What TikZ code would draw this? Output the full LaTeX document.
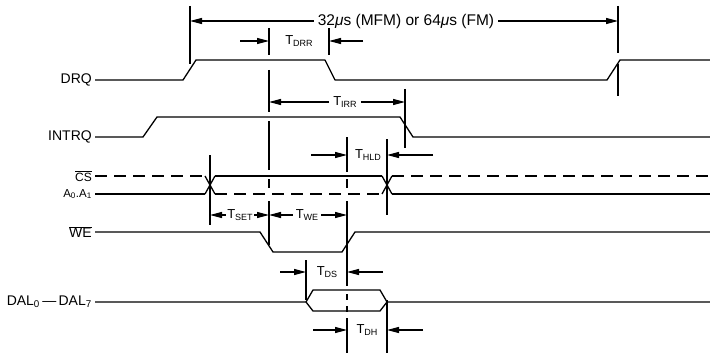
\documentclass[tikz,border=0pt]{standalone}
\usepackage{fontspec}
\setmainfont{Liberation Sans}
\usetikzlibrary{arrows.meta}

% timing label: T with small subscript
\newcommand{\tsub}[1]{T\raisebox{-2.5pt}{\fontsize{9}{10}\selectfont #1}}

\begin{document}
\begin{tikzpicture}[
    x=1pt, y=-1pt,
    font=\fontsize{14}{16}\selectfont,
    >={Triangle[length=12pt,width=6pt]},
    sig/.style={
        line width=1.3pt,
        line join=round
    },
    dashsig/.style={
        sig,
        dash pattern=on 12pt off 7pt
    },
    tick/.style={
        line width=1.2pt
    },
    dim/.style={
        ->,
        line width=1.2pt
    },
    siglabel/.style={
        anchor=east,
        inner sep=0pt
    },
    tlabel/.style={
        font=\fontsize{13}{15}\selectfont,
        inner sep=4pt
    }
]
\useasboundingbox (0,0) rectangle (710,353);

% Signal names
\node[siglabel] (drq) at (92,80) {DRQ};
\node[siglabel] (intrq) at (92,137) {INTRQ};
\node[siglabel, font=\fontsize{12}{13}\selectfont] (cs) at (92,176) {$\overline{\mbox{CS}}$};
\node[siglabel, font=\fontsize{11.5}{12}\selectfont] (addr) at (92,194) {A\textsubscript{0}.A\textsubscript{1}};
\node[siglabel] (we) at (92,232) {$\overline{\mbox{WE}}$};
\node[siglabel] (dal) at (92,302) {DAL\textsubscript{0}\,---\,DAL\textsubscript{7}};

% Waveforms
\draw[sig] (95,80) -- (183,80) -- (196,60) -- (325,60) -- (335,80) -- (607,80) -- (620,60) -- (710,60);
\draw[sig] (95,137) -- (143,137) -- (157,117) -- (400,117) -- (413,137) -- (710,137);

\draw[dashsig] (95,176) -- (205,176);
\draw[sig] (95,194) -- (205,194);
\draw[sig] (205,176) -- (215,194) (205,194) -- (215,176);
\draw[sig] (215,176) -- (382,176);
\draw[dashsig] (215,194) -- (382,194);
\draw[sig] (382,176) -- (392,194) (382,194) -- (392,176);
\draw[dashsig] (392,176) -- (710,176);
\draw[sig] (392,194) -- (710,194);

\draw[sig] (95,232) -- (260,232) -- (273,252) -- (342,252) -- (355,232) -- (710,232);

\draw[sig] (95,302) -- (306,302) -- (313,290) -- (380,290) -- (387,302) -- (710,302);
\draw[sig] (306,302) -- (313,311) -- (380,311) -- (387,302);

% Reference lines
\draw[tick] (190,6) -- (190,64);
\draw[tick] (269,28) -- (269,55) (269,70) -- (269,112) (269,121) -- (269,170)
    (269,179) -- (269,188) (269,201) -- (269,245);
\draw[tick] (329,28) -- (329,55);
\draw[tick] (618,6) -- (618,53) (618,64) -- (618,96);
\draw[tick] (405,89) -- (405,148);
\draw[tick] (347,137) -- (347,172) (347,179) -- (347,188) (347,201) -- (347,286)
    (347,294) -- (347,300) (347,306) -- (347,312) (347,318) -- (347,353);
\draw[tick] (210,155) -- (210,225);
\draw[tick] (387,139) -- (387,215);
\draw[tick] (306,260) -- (306,300);
\draw[tick] (387,300) -- (387,353);

% Cycle time
\node[tlabel, font=\fontsize{15.5}{17}\selectfont] (cycle) at (406,21) {32{\itshape μ}s (MFM) or 64{\itshape μ}s (FM)};
\draw[dim] (cycle.west) -- (190,21);
\draw[dim] (cycle.east) -- (618,21);

% T_DRR
\node[tlabel] (tdrr) at (299,41) {\tsub{DRR}};
\draw[dim] (240,41) -- (269,41);
\draw[dim] (363,41) -- (329,41);

% T_IRR
\node[tlabel] (tirr) at (345,102) {\tsub{IRR}};
\draw[dim] (tirr.west) -- (269,102);
\draw[dim] (tirr.east) -- (405,102);

% T_HLD
\node[tlabel] (thld) at (368,155) {\tsub{HLD}};
\draw[dim] (311,155) -- (347,155);
\draw[dim] (433,155) -- (387,155);

% T_SET and T_WE
\node[tlabel, inner sep=1.5pt] (tset) at (240,215) {\tsub{SET}};
\draw[dim] (tset.west) -- (210,215);
\draw[dim] (tset.east) -- (269,215);
\node[tlabel, inner sep=3pt] (twe) at (307,215) {\tsub{WE}};
\draw[dim] (twe.west) -- (269,215);
\draw[dim] (twe.east) -- (347,215);

% T_DS
\node[tlabel] (tds) at (327,272) {\tsub{DS}};
\draw[dim] (280,272) -- (306,272);
\draw[dim] (383,272) -- (347,272);

% T_DH
\node[tlabel] (tdh) at (367,330) {\tsub{DH}};
\draw[dim] (313,330) -- (347,330);
\draw[dim] (423,330) -- (387,330);

\end{tikzpicture}
\end{document}
